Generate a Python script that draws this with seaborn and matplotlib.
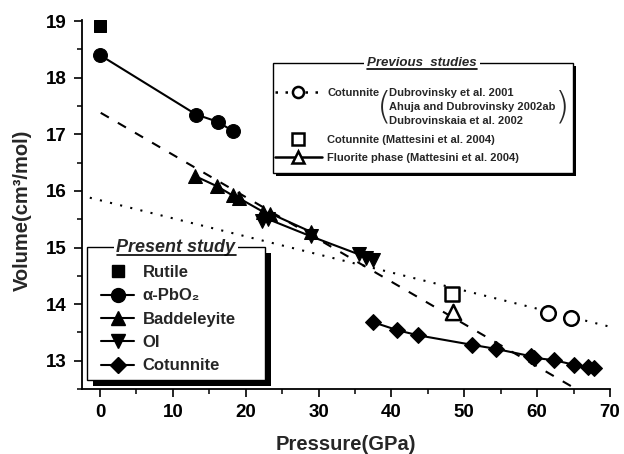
import matplotlib
matplotlib.use("Agg")
import matplotlib.pyplot as plt
from matplotlib.lines import Line2D
from matplotlib.patches import Rectangle
import seaborn as sns
import numpy as np

# ---------------- data ----------------
rutile_p = [0.0]
rutile_v = [18.91]

apbo2_p = [0.0, 13.2, 16.2, 18.2]
apbo2_v = [18.40, 17.35, 17.22, 17.06]

badd_p = [13.1, 16.1, 18.2, 19.1, 22.4, 23.4, 28.9]
badd_v = [16.26, 16.08, 15.92, 15.87, 15.63, 15.60, 15.28]

oi_p = [22.3, 23.1, 28.9, 35.5, 36.5, 37.5]
oi_v = [15.46, 15.50, 15.20, 14.88, 14.81, 14.78]

cot_p = [37.5, 40.8, 43.6, 51.1, 54.3, 59.1, 59.6, 62.3, 65.0, 67.0, 67.8]
cot_v = [13.68, 13.54, 13.45, 13.28, 13.21, 13.08, 13.05, 13.01, 12.93, 12.89, 12.87]

# previous studies
dub_p = [61.5, 64.7]
dub_v = [13.84, 13.75]
dub_fit_p = [-1.4, 70.0]
dub_fit_v = [15.88, 13.60]

matt_cot_p = [48.3]
matt_cot_v = [14.18]

matt_flu_p = [48.4]
matt_flu_v = [13.86]
flu_fit_p = [0.1, 66.0]
flu_fit_v = [17.38, 12.45]

xticks = [0, 10, 20, 30, 40, 50, 60, 70]
yticks = [13, 14, 15, 16, 17, 18, 19]

# ---------------- style ----------------
sns.set_theme(style="ticks")
plt.rcParams["font.family"] = ["Liberation Sans", "DejaVu Sans"]

W, H = 624, 454
fig = plt.figure(figsize=(W / 100, H / 100), dpi=100)
L, R, T, B = 82, 610, 20, 389
ax = fig.add_axes([L / W, 1 - B / H, (R - L) / W, (B - T) / H])

def fx(px):
    return px / W

def fy(py):
    return 1 - py / H

lw = 1.5
# fits
sns.lineplot(x=dub_fit_p, y=dub_fit_v, ax=ax, color="black", lw=1.5,
             linestyle=(0, (1, 4)), estimator=None, sort=False, legend=False)
sns.lineplot(x=flu_fit_p, y=flu_fit_v, ax=ax, color="black", lw=1.5,
             linestyle=(0, (4.5, 5)), estimator=None, sort=False, legend=False)

# present study
sns.lineplot(x=apbo2_p, y=apbo2_v, ax=ax, color="black", lw=lw, marker="o",
             markersize=10, markeredgecolor="black", estimator=None, sort=False, legend=False)
sns.lineplot(x=badd_p, y=badd_v, ax=ax, color="black", lw=lw, marker="^",
             markersize=10, markeredgecolor="black", estimator=None, sort=False, legend=False)
sns.lineplot(x=oi_p, y=oi_v, ax=ax, color="black", lw=lw, marker="v",
             markersize=10, markeredgecolor="black", estimator=None, sort=False, legend=False)
sns.lineplot(x=cot_p, y=cot_v, ax=ax, color="black", lw=lw, marker="D",
             markersize=8.5, markeredgecolor="black", estimator=None, sort=False, legend=False)
sns.scatterplot(x=rutile_p, y=rutile_v, ax=ax, color="black", marker="s",
                s=80, edgecolor="black", legend=False, zorder=5)

# previous-study points (open)
sns.scatterplot(x=dub_p, y=dub_v, ax=ax, facecolor="white", edgecolor="black",
                marker="o", s=110, linewidth=1.8, legend=False, zorder=5)
sns.scatterplot(x=matt_cot_p, y=matt_cot_v, ax=ax, facecolor="white", edgecolor="black",
                marker="s", s=110, linewidth=1.8, legend=False, zorder=5)
sns.scatterplot(x=matt_flu_p, y=matt_flu_v, ax=ax, facecolor="white", edgecolor="black",
                marker="^", s=120, linewidth=1.8, legend=False, zorder=5)

ax.set_xlim(-2.47, 70)
ax.set_ylim(12.525, 19.02)
ax.set_xticks(xticks)
ax.set_yticks(yticks)
ax.set_xticks(np.arange(5, 70, 10), minor=True)
ax.set_yticks(np.arange(12.5, 19.0, 1.0), minor=True)
ax.set_xticklabels([str(t) for t in xticks])
ax.set_yticklabels([str(t) for t in yticks])
for s in ["top", "right"]:
    ax.spines[s].set_visible(False)
for s in ["left", "bottom"]:
    ax.spines[s].set_linewidth(1.3)
    ax.spines[s].set_color("black")
ax.tick_params(which="major", direction="out", length=6, width=1.2, color="black",
               labelsize=13.5, pad=5, labelcolor="black")
ax.tick_params(which="minor", direction="out", length=3.5, width=1.1, color="black")
for lab in ax.get_xticklabels() + ax.get_yticklabels():
    lab.set_fontweight("bold")
ax.grid(False)
ax.set_facecolor("white")

fig.text(fx(346), fy(444), "Pressure(GPa)", ha="center", va="center",
         fontsize=14.5, fontweight="bold")
fig.text(fx(22), fy(210), "Volume(cm³/mol)", ha="center", va="center",
         rotation=90, fontsize=14.5, fontweight="bold")

# ---------------- Present study legend ----------------
fig.add_artist(Rectangle((fx(93), fy(386)), fx(271) - fx(93), fy(253) - fy(386),
                         transform=fig.transFigure, facecolor="black", edgecolor="none", zorder=5))
fig.add_artist(Rectangle((fx(87), fy(380)), fx(265) - fx(87), fy(247) - fy(380),
                         transform=fig.transFigure, facecolor="white", edgecolor="black",
                         lw=1.0, zorder=6))
t1 = fig.text(fx(176), fy(247), "Present study", ha="center", va="center", fontsize=13,
              fontweight="bold", fontstyle="italic", zorder=7,
              bbox=dict(facecolor="white", edgecolor="none", pad=1.5))

handles1 = [
    Line2D([], [], color="black", marker="s", linestyle="none", markersize=9),
    Line2D([], [], color="black", marker="o", lw=lw, markersize=10),
    Line2D([], [], color="black", marker="^", lw=lw, markersize=10),
    Line2D([], [], color="black", marker="v", lw=lw, markersize=10),
    Line2D([], [], color="black", marker="D", lw=lw, markersize=8.5),
]
labels1 = ["Rutile", "α-PbO₂", "Baddeleyite", "OI", "Cotunnite"]
leg1 = fig.legend(handles1, labels1, loc="upper left",
                  bbox_to_anchor=(fx(101), fy(265)), bbox_transform=fig.transFigure,
                  frameon=False, borderpad=0, borderaxespad=0, handlelength=2.0,
                  handletextpad=0.5, labelspacing=0.5,
                  prop=dict(size=12, weight="bold"))
leg1.set_zorder(8)

# ---------------- Previous studies legend ----------------
fig.add_artist(Rectangle((fx(276), fy(176)), fx(576) - fx(276), fy(66) - fy(176),
                         transform=fig.transFigure, facecolor="black", edgecolor="none", zorder=5))
fig.add_artist(Rectangle((fx(273), fy(173)), fx(573) - fx(273), fy(63) - fy(173),
                         transform=fig.transFigure, facecolor="white", edgecolor="black",
                         lw=1.0, zorder=6))
t2 = fig.text(fx(422), fy(63), "Previous  studies", ha="center", va="center", fontsize=9.5,
              fontweight="bold", fontstyle="italic", zorder=7,
              bbox=dict(facecolor="white", edgecolor="none", pad=2.5))

handles2a = [Line2D([], [], color="black", marker="o", linestyle=(0, (1, 3)), lw=1.8,
                    markersize=8, markerfacecolor="white", markeredgewidth=1.8)]
leg2a = fig.legend(handles2a, ["Cotunnite"], loc="center left",
                   bbox_to_anchor=(fx(275), fy(93)), bbox_transform=fig.transFigure,
                   frameon=False, borderpad=0, borderaxespad=0, handlelength=4.2,
                   handletextpad=0.5, prop=dict(size=8, weight="bold"))
leg2a.set_zorder(8)
handles2b = [
    Line2D([], [], color="black", marker="s", linestyle="none", markersize=8,
           markerfacecolor="white", markeredgewidth=1.8),
    Line2D([], [], color="black", marker="^", lw=1.8, markersize=8,
           markerfacecolor="white", markeredgewidth=1.8),
]
leg2b = fig.legend(handles2b, ["Cotunnite (Mattesini et al. 2004)",
                               "Fluorite phase (Mattesini et al. 2004)"],
                   loc="upper left", bbox_to_anchor=(fx(275), fy(135)),
                   bbox_transform=fig.transFigure, frameon=False, borderpad=0,
                   borderaxespad=0, handlelength=4.2, handletextpad=0.5,
                   labelspacing=0.75, prop=dict(size=8, weight="bold"))
leg2b.set_zorder(8)

refs = ["Dubrovinsky et al. 2001", "Ahuja and Dubrovinsky 2002ab", "Dubrovinskaia et al. 2002"]
for i, r in enumerate(refs):
    fig.text(fx(389), fy(93 + i * 14), r, ha="left", va="center", fontsize=8,
             fontweight="bold", zorder=8)
fig.text(fx(384), fy(107), "(", ha="center", va="center", fontsize=27,
         fontweight="light", zorder=8, family="DejaVu Sans")
fig.text(fx(562), fy(107), ")", ha="center", va="center", fontsize=27,
         fontweight="light", zorder=8, family="DejaVu Sans")

# underlines for titles
fig.canvas.draw()
rend = fig.canvas.get_renderer()
inv = fig.transFigure.inverted()
for t in (t1, t2):
    bb = t.get_window_extent(rend)
    (x0, y0), (x1, y1) = inv.transform([(bb.x0, bb.y0), (bb.x1, bb.y1)])
    yy = y0 + (y1 - y0) * 0.02
    fig.add_artist(Line2D([x0, x1], [yy, yy], transform=fig.transFigure, color="black",
                          lw=1.2, zorder=9))

fig.savefig("out.png", dpi=100, facecolor="white")
